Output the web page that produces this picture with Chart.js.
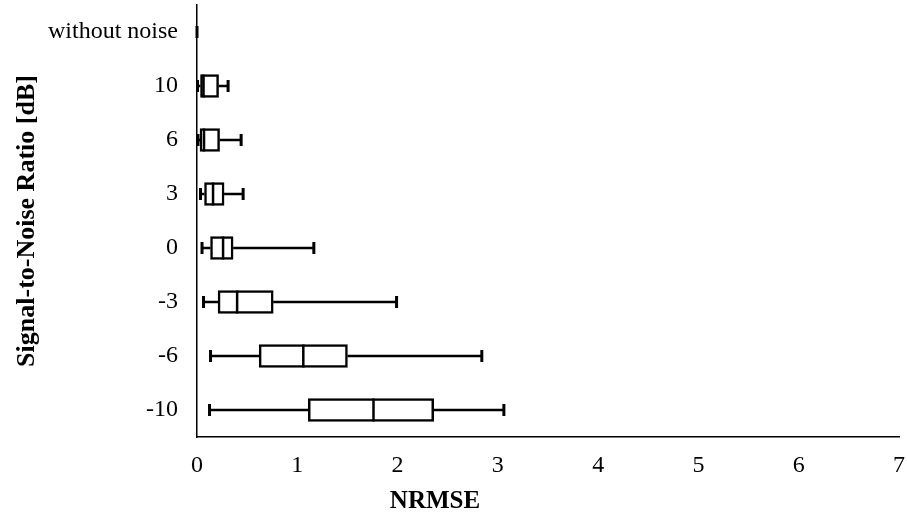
<!DOCTYPE html>
<html>
<head>
<meta charset="utf-8">
<script src="https://cdn.jsdelivr.net/npm/chart.js@4"></script>
<style>
  html, body { margin: 0; padding: 0; background: #fff; }
  #wrap { width: 907px; height: 520px; }
</style>
</head>
<body>
<div id="wrap"><canvas id="chart" width="907" height="520"></canvas></div>
<script>
const categories = ["without noise", "10", "6", "3", "0", "-3", "-6", "-10"];
const whiskerMin = [0, 0.005, 0.01, 0.035, 0.05, 0.065, 0.135, 0.125];
const q1 = [0, 0.035, 0.03, 0.075, 0.135, 0.21, 0.62, 1.11];
const median = [0, 0.065, 0.07, 0.16, 0.26, 0.40, 1.06, 1.76];
const q3 = [0, 0.215, 0.225, 0.27, 0.36, 0.76, 1.50, 2.36];
const whiskerMax = [0, 0.31, 0.44, 0.46, 1.165, 1.99, 2.84, 3.06];
const xTicks = [0, 1, 2, 3, 4, 5, 6, 7];

const serif = "'Liberation Serif', 'Times New Roman', serif";

// whiskers under the boxes, medians over them
const boxWhiskers = {
  id: "boxWhiskers",
  beforeDatasetsDraw(chart) {
    const { ctx } = chart;
    const x = chart.scales.x;
    const y = chart.scales.y;
    ctx.save();
    ctx.strokeStyle = "#000";
    categories.forEach((cat, i) => {
      const cy = y.getPixelForValue(i);
      const xMin = x.getPixelForValue(whiskerMin[i]);
      const xMax = x.getPixelForValue(whiskerMax[i]);
      ctx.lineWidth = 2.5;
      ctx.beginPath();
      ctx.moveTo(xMin, cy);
      ctx.lineTo(x.getPixelForValue(q1[i]), cy);
      ctx.moveTo(x.getPixelForValue(q3[i]), cy);
      ctx.lineTo(xMax, cy);
      ctx.stroke();
      ctx.lineWidth = 3;
      ctx.beginPath();
      ctx.moveTo(xMin, cy - 6);
      ctx.lineTo(xMin, cy + 6);
      ctx.moveTo(xMax, cy - 6);
      ctx.lineTo(xMax, cy + 6);
      ctx.stroke();
    });
    ctx.restore();
  },
  afterDatasetsDraw(chart) {
    const { ctx } = chart;
    const x = chart.scales.x;
    const meta = chart.getDatasetMeta(0);
    ctx.save();
    ctx.strokeStyle = "#000";
    ctx.lineWidth = 2.5;
    meta.data.forEach((bar, i) => {
      if (q3[i] - q1[i] <= 0) return;
      const mx = x.getPixelForValue(median[i]);
      const h = bar.height / 2;
      ctx.beginPath();
      ctx.moveTo(mx, bar.y - h);
      ctx.lineTo(mx, bar.y + h);
      ctx.stroke();
    });
    ctx.restore();
  },
  afterDraw(chart) {
    const { ctx } = chart;
    ctx.save();
    ctx.fillStyle = "#000";
    ctx.font = "bold 25px " + serif;
    ctx.textAlign = "center";
    ctx.textBaseline = "middle";
    ctx.fillText("NRMSE", 435, 502);
    ctx.restore();
  }
};

new Chart(document.getElementById("chart"), {
  type: "bar",
  data: {
    labels: categories,
    datasets: [
      {
        label: "NRMSE",
        data: categories.map((c, i) => [q1[i], q3[i]]),
        backgroundColor: "#fff",
        borderColor: "#000",
        borderWidth: 2.5,
        borderSkipped: false,
        barThickness: 23
      }
    ]
  },
  options: {
    indexAxis: "y",
    responsive: false,
    animation: false,
    layout: { padding: { top: 5, right: 8, left: 0, bottom: 0 } },
    plugins: {
      legend: { display: false },
      tooltip: { enabled: false }
    },
    scales: {
      x: {
        type: "linear",
        min: 0,
        max: 7,
        afterBuildTicks: (scale) => {
          scale.ticks = xTicks.map((v) => ({ value: v }));
        },
        afterFit: (scale) => {
          scale.height = 83;
          scale.paddingLeft = 0;
          scale.paddingRight = 0;
        },
        grid: { display: false, drawTicks: false },
        border: { display: true, color: "#000", width: 1.5 },
        ticks: {
          color: "#000",
          padding: 14,
          font: { family: serif, size: 24 }
        }
      },
      y: {
        type: "category",
        afterFit: (scale) => {
          scale.width = 197;
          scale.paddingTop = 0;
          scale.paddingBottom = 0;
        },
        grid: { display: false, drawTicks: false },
        border: { display: true, color: "#000", width: 1.5 },
        ticks: {
          color: "#000",
          padding: 19,
          font: { family: serif, size: 24 }
        },
        title: {
          display: true,
          text: "Signal-to-Noise Ratio [dB]",
          color: "#000",
          padding: { top: 12, bottom: 0 },
          font: { family: serif, size: 26, weight: "bold" }
        }
      }
    }
  },
  plugins: [boxWhiskers]
});
</script>
</body>
</html>
